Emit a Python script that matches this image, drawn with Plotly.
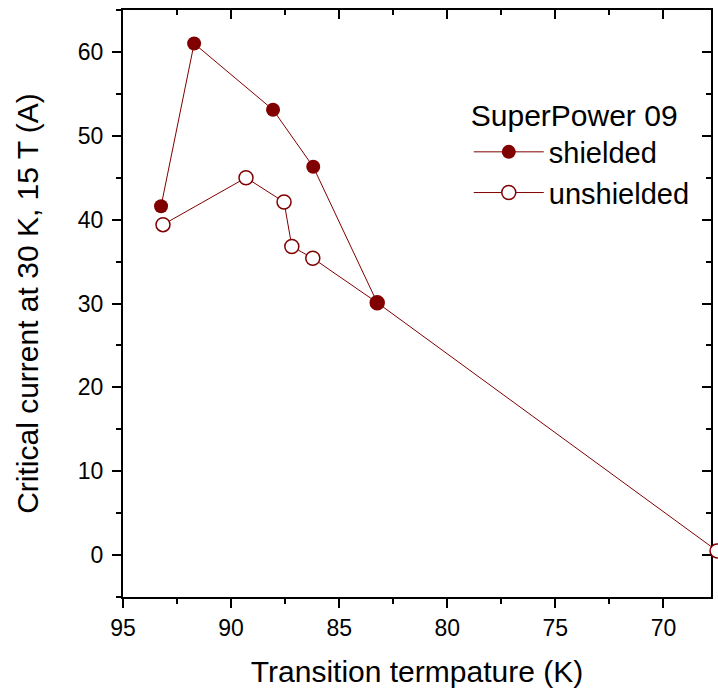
import plotly.graph_objects as go

shielded_T = [93.24, 91.71, 88.06, 86.2, 83.24]
shielded_Ic = [41.6, 61.0, 53.1, 46.3, 30.1]

unshielded_T = [93.15, 89.31, 87.55, 87.19, 86.22, 83.24, 67.52]
unshielded_Ic = [39.4, 45.0, 42.1, 36.8, 35.4, 30.1, 0.5]

color = "#800000"
font = "Liberation Sans, Arial, sans-serif"
xr = [95, 67.8]
yr = [-5, 65]

# plot box 123..711 px; figure right margin 0 so an extra thin axis strip (711..718)
# can show the last point sitting just beyond the right frame, as in the reference
main_dom = 588 / 595
px_per_unit = 588 / (xr[0] - xr[1])
xr_strip = [xr[1], xr[1] - 7 / px_per_unit]

fig = go.Figure()
fig.add_trace(go.Scatter(
    x=unshielded_T, y=unshielded_Ic, name="unshielded", mode="lines+markers",
    line=dict(color=color, width=1),
    marker=dict(symbol="circle", size=14, color="white", line=dict(color=color, width=1.5)),
    legendrank=2, cliponaxis=False,
))
fig.add_trace(go.Scatter(
    x=shielded_T, y=shielded_Ic, name="shielded", mode="lines+markers",
    line=dict(color=color, width=1),
    marker=dict(symbol="circle", size=14, color=color, line=dict(color=color, width=0)),
    legendrank=1, cliponaxis=False,
))
# last unshielded point lies beyond the right frame
fig.add_trace(go.Scatter(
    x=unshielded_T[-1:], y=unshielded_Ic[-1:], xaxis="x3", yaxis="y", mode="markers",
    marker=dict(symbol="circle", size=14, color="white", line=dict(color=color, width=1.5)),
    showlegend=False, cliponaxis=False, hoverinfo="skip",
))

axis_common = dict(showgrid=False, zeroline=False, linecolor="black", linewidth=2,
                   tickcolor="black", tickwidth=2, ticklen=9, automargin=False,
                   tickfont=dict(family=font, size=23, color="black"))

fig.update_layout(
    width=718, height=691,
    margin=dict(l=123, r=0, t=10, b=94, autoexpand=False),
    paper_bgcolor="white", plot_bgcolor="white",
    font=dict(family=font, color="black"),
    xaxis=dict(range=xr, dtick=5, ticks="outside", showline=True, domain=[0, main_dom],
               minor=dict(ticks="outside", dtick=2.5, ticklen=5, tickwidth=2, tickcolor="black"),
               title=dict(text="Transition termpature (K)", font=dict(family=font, size=30), standoff=21),
               **axis_common),
    yaxis=dict(range=yr, dtick=10, ticks="outside", showline=True, ticklabelstandoff=4,
               minor=dict(ticks="outside", dtick=5, ticklen=5, tickwidth=2, tickcolor="black"),
               title=dict(text="Critical current at 30 K, 15 T (A)", font=dict(family=font, size=30), standoff=30),
               **axis_common),
    xaxis2=dict(range=xr, dtick=5, ticks="inside", showline=True, overlaying="x", side="top",
                anchor="y", showticklabels=False, domain=[0, main_dom],
                minor=dict(ticks="inside", dtick=2.5, ticklen=5, tickwidth=2, tickcolor="black"),
                **axis_common),
    yaxis2=dict(range=yr, dtick=10, ticks="inside", showline=True, overlaying="y", side="right",
                anchor="x", showticklabels=False,
                minor=dict(ticks="inside", dtick=5, ticklen=5, tickwidth=2, tickcolor="black"),
                **axis_common),
    xaxis3=dict(range=xr_strip, domain=[main_dom, 1], anchor="y", visible=False, automargin=False),
    legend=dict(x=0.584 * 588 / 595 + 0.004, y=0.868, xanchor="left", yanchor="top",
                bgcolor="rgba(0,0,0,0)", itemwidth=70,
                title=dict(text="SuperPower 09", font=dict(family=font, size=30)),
                font=dict(family=font, size=29), tracegroupgap=0),
    showlegend=True,
)
fig.add_trace(go.Scatter(x=[], y=[], xaxis="x2", yaxis="y2", showlegend=False, hoverinfo="skip"))

fig.write_html("out.html", config={"displayModeBar": False},
               post_script="document.body.style.margin='0';document.body.style.overflow='hidden';")
